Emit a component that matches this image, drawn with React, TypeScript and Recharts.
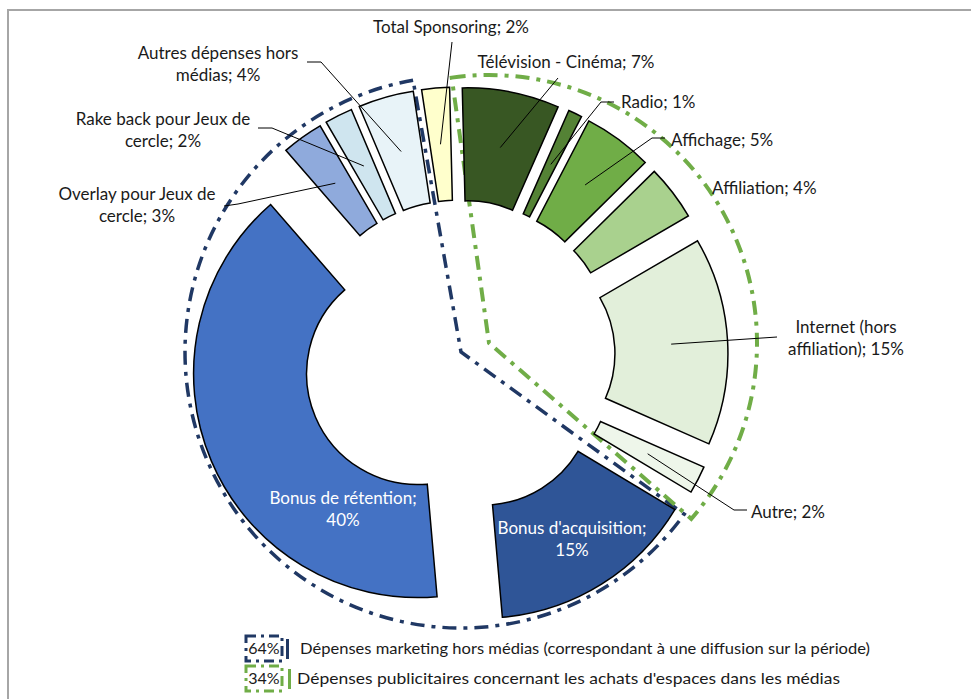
import React from "react";
import { PieChart, Pie, Sector } from "recharts";

/* ── Data ───────────────────────────────────────────────────── */

const CATEGORIES = [
  "Télévision - Cinéma",
  "Radio",
  "Affichage",
  "Affiliation",
  "Internet (hors affiliation)",
  "Autre",
  "Bonus d'acquisition",
  "Bonus de rétention",
  "Overlay pour Jeux de cercle",
  "Rake back pour Jeux de cercle",
  "Autres dépenses hors médias",
  "Total Sponsoring",
];
const SHARES = [7, 1, 5, 4, 15, 2, 15, 40, 3, 2, 4, 2];

const GROUP_NAMES = [
  "Dépenses marketing hors médias (correspondant à une diffusion sur la période)",
  "Dépenses publicitaires concernant les achats d'espaces dans les médias",
];
const GROUP_SHARES = [64, 34];

/* ── Styling ────────────────────────────────────────────────── */

const COLORS = [
  "#385723", "#548235", "#70ad47", "#a9d18e", "#e2efda", "#eef6ea",
  "#2f5597", "#4472c4", "#8faadc", "#cfe5ef", "#e8f3f8", "#ffffcc",
];
const GROUP_COLORS = ["#203864", "#70ad47"];

const FONT = "Lato, 'Noto Sans', sans-serif";
const TEXT = "#1a1a1a";
const RAD = Math.PI / 180;
const EXPLODE = 45;

// label placement (Excel labels were placed by hand)
type LabelPos = {
  x: number;
  y: number;
  anchor: "start" | "middle" | "end";
  split?: number;
  leader?: [number, number][];
  white?: boolean;
};
const LABEL_POS: LabelPos[] = [
  { x: 566, y: 68, anchor: "middle", leader: [[558, 78]] },
  { x: 621, y: 108, anchor: "start", leader: [[614, 102], [601, 102]] },
  { x: 671, y: 146, anchor: "start", leader: [[665, 138], [652, 138]] },
  { x: 712, y: 194, anchor: "start" },
  { x: 846, y: 333, anchor: "middle", split: 2, leader: [[777, 337]] },
  { x: 751, y: 518, anchor: "start", leader: [[747, 510], [734, 510]] },
  { x: 572, y: 534, anchor: "middle", split: 2, white: true },
  { x: 343, y: 504, anchor: "middle", split: 3, white: true },
  { x: 137, y: 200, anchor: "middle", split: 4, leader: [[224, 206], [238, 204]] },
  { x: 163, y: 125, anchor: "middle", split: 5, leader: [[258, 128], [272, 128]] },
  { x: 218, y: 59, anchor: "middle", split: 3, leader: [[307, 62], [321, 62]] },
  { x: 451, y: 33, anchor: "middle", leader: [[452, 42]] },
];

const data = CATEGORIES.map((name, i) => ({ name, value: SHARES[i] }));

/* ── Helpers ────────────────────────────────────────────────── */

function shiftOf(mid: number) {
  return { dx: EXPLODE * Math.cos(-mid * RAD), dy: EXPLODE * Math.sin(-mid * RAD) };
}

function renderSector(p: any) {
  const mid = (p.startAngle + p.endAngle) / 2;
  const { dx, dy } = shiftOf(mid);
  return (
    <Sector
      key={`sec-${p.index}`}
      cx={p.cx + dx}
      cy={p.cy + dy}
      innerRadius={p.innerRadius}
      outerRadius={p.outerRadius}
      startAngle={p.startAngle}
      endAngle={p.endAngle}
      fill={COLORS[p.index]}
      stroke="#000"
      strokeWidth={1.5}
    />
  );
}

function renderLabel(p: any) {
  const i = p.index;
  const L = LABEL_POS[i];
  const mid = (p.startAngle + p.endAngle) / 2;
  const { dx, dy } = shiftOf(mid);
  const r = (p.innerRadius + p.outerRadius) / 2;
  const tip = [p.cx + dx + r * Math.cos(-mid * RAD), p.cy + dy + r * Math.sin(-mid * RAD)];
  const text = `${CATEGORIES[i]}; ${SHARES[i]}%`;
  const words = text.split(" ");
  const lines = L.split
    ? [words.slice(0, L.split).join(" "), words.slice(L.split).join(" ")]
    : [text];
  return (
    <g key={`lab-${i}`}>
      {L.leader && (
        <polyline
          points={[...L.leader, tip].map((q) => q.join(",")).join(" ")}
          fill="none"
          stroke="#000"
          strokeWidth={1}
        />
      )}
      <text
        x={L.x}
        y={L.y}
        textAnchor={L.anchor}
        fontFamily={FONT}
        fontSize={17}
        fill={L.white ? "#fff" : TEXT}
      >
        {lines.map((ln, k) => (
          <tspan key={k} x={L.x} dy={k === 0 ? 0 : 22}>
            {ln}
          </tspan>
        ))}
      </text>
    </g>
  );
}

/* ── Component ──────────────────────────────────────────────── */

export default function App() {
  return (
    <div
      style={{
        position: "absolute",
        left: 0,
        top: 0,
        width: 971,
        height: 699,
        overflow: "hidden",
        background: "#fff",
      }}
    >
      {/* chart frame */}
      <div
        style={{
          position: "absolute",
          left: 7,
          top: 9,
          width: 1000,
          height: 720,
          borderTop: "2px solid #a6a6a6",
          borderLeft: "2px solid #a6a6a6",
        }}
      />
      <div style={{ position: "absolute", left: 0, top: 0 }}>
        <PieChart width={971} height={699} margin={{ top: 0, right: 0, bottom: 0, left: 0 }}>
          <Pie
            data={data}
            dataKey="value"
            cx={459}
            cy={356}
            innerRadius={111}
            outerRadius={224}
            startAngle={91.4}
            endAngle={-268.6}
            fill="none"
            stroke="none"
            label={renderSector}
            labelLine={false}
            isAnimationActive={false}
          />
          <Pie
            data={data}
            dataKey="value"
            cx={459}
            cy={356}
            innerRadius={111}
            outerRadius={224}
            startAngle={91.4}
            endAngle={-268.6}
            fill="none"
            stroke="none"
            label={renderLabel}
            labelLine={false}
            isAnimationActive={false}
          />
          <Pie
            data={[{ name: GROUP_NAMES[0], value: GROUP_SHARES[0] }]}
            dataKey="value"
            cx={461}
            cy={352}
            innerRadius={0}
            outerRadius={276}
            startAngle={100}
            endAngle={324}
            fill="none"
            stroke={GROUP_COLORS[0]}
            strokeWidth={3.5}
            strokeDasharray="14 7 4 7"
            isAnimationActive={false}
          />
          <Pie
            data={[{ name: GROUP_NAMES[1], value: GROUP_SHARES[1] }]}
            dataKey="value"
            cx={489}
            cy={343}
            innerRadius={0}
            outerRadius={268}
            startAngle={98}
            endAngle={-41}
            fill="none"
            stroke={GROUP_COLORS[1]}
            strokeWidth={4}
            strokeDasharray="14 7 4 7"
            isAnimationActive={false}
          />
        </PieChart>
      </div>
      {/* legend */}
      <svg
        width={971}
        height={699}
        style={{ position: "absolute", left: 0, top: 0, pointerEvents: "none" }}
      >
        {GROUP_NAMES.map((name, i) => {
          const y = 636 + i * 30;
          const textLen = i === 0 ? 570 : 543;
          return (
            <g key={name}>
              <rect
                x={246}
                y={y}
                width={36}
                height={25}
                fill="none"
                stroke={GROUP_COLORS[i]}
                strokeWidth={3}
                strokeDasharray="10 5 3 5"
              />
              <text x={264} y={y + 18} textAnchor="middle" fontFamily={FONT} fontSize={16} fill={TEXT}>
                {`${GROUP_SHARES[i]}%`}
              </text>
              <rect x={286 + i * 2} y={y + 3} width={3} height={20} fill={GROUP_COLORS[i]} />
              <text
                x={300 - i * 3}
                y={y + 18}
                fontFamily={FONT}
                fontSize={16}
                fill={TEXT}
                textLength={textLen}
                lengthAdjust="spacingAndGlyphs"
              >
                {name}
              </text>
            </g>
          );
        })}
      </svg>
    </div>
  );
}
